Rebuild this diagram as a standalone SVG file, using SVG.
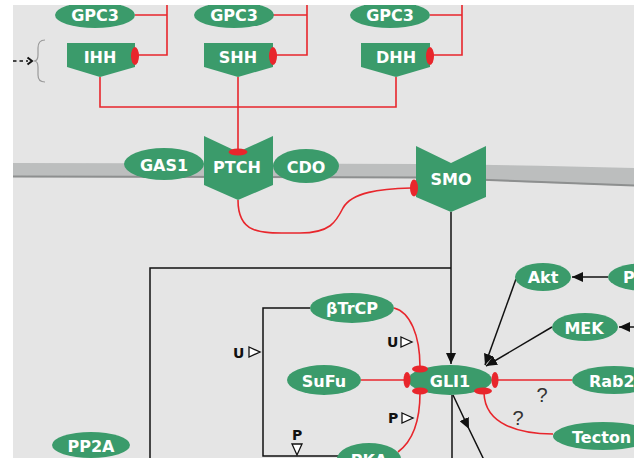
<svg xmlns="http://www.w3.org/2000/svg" width="634" height="458" viewBox="0 0 634 458">
<defs>
<style>
.n{fill:#3b9b6b}
.t{fill:#fff;font-family:"DejaVu Sans",Verdana,sans-serif;font-weight:bold;font-size:16px;text-anchor:middle}
.r{fill:none;stroke:#e8262c;stroke-width:1.6}
.k{fill:none;stroke:#111;stroke-width:1.5}
.c{fill:#e8262c}
.q{font-family:"Liberation Sans",Arial,sans-serif;font-size:20px;fill:#333;text-anchor:middle}
.m{font-family:"DejaVu Sans",sans-serif;font-weight:bold;font-size:14px;fill:#111}
.tri{fill:#fff;stroke:#111;stroke-width:1.3}
</style>
<marker id="ah" markerUnits="userSpaceOnUse" markerWidth="12" markerHeight="10" refX="11" refY="5" orient="auto"><path d="M0,0 L11,5 L0,10 z" fill="#111"/></marker>
<clipPath id="clip"><rect x="13" y="5" width="621" height="453"/></clipPath>
</defs>
<rect width="634" height="458" fill="#fff"/>
<rect x="13" y="5" width="621" height="453" fill="#e5e5e5"/>
<g clip-path="url(#clip)">
<g id="membrane">
<path d="M13,163 L420,164 Q520,165 634,168 L634,186 Q520,182 420,178 L13,177 Z" fill="#bcbebe"/>
<path d="M13,176.5 L420,177.5 Q520,181.5 634,185.5" fill="none" stroke="#8d8f8f" stroke-width="2"/>
</g>
<g id="connectors">
<path class="r" d="M135,15 H167 M167,0 V55 H137"/>
<path class="r" d="M273,15 H307 M307,0 V55 H275"/>
<path class="r" d="M430,15 H462 M462,0 V55 H432"/>
<path class="r" d="M100,77 V107 H396 V77"/>
<path class="r" d="M238,77 V150"/>
<path class="r" d="M238,200 C238,236 262,233 300,233 C330,233 336,222 343,208 C352,192 380,189 411,188"/>
<path class="r" d="M394,308 C410,312 420,335 420,367"/>
<path class="r" d="M361,380 H405"/>
<path class="r" d="M398,452 C414,440 420,420 420,393"/>
<path class="r" d="M572,380 H497"/>
<path class="r" d="M553,434 C520,434 485,425 484,393"/>
<path class="k" d="M451,212 V364" marker-end="url(#ah)"/>
<path class="k" d="M451,268 H150 V458"/>
<path class="k" d="M310,308 H263 V456 H338"/>
<path class="k" d="M452,395 V458"/>
<path class="k" d="M453,395 L469,429 L485,462" marker-mid="url(#ah)"/>
<path class="k" d="M516,279 L485,365" marker-end="url(#ah)"/>
<path class="k" d="M552,327 L486,366" marker-end="url(#ah)"/>
<path class="k" d="M608,277 H572" marker-end="url(#ah)"/>
<path class="k" d="M640,327 H619" marker-end="url(#ah)"/>
<path d="M13,61 H28" fill="none" stroke="#111" stroke-width="1.6" stroke-dasharray="3.5,3"/>
<path d="M27.5,57.5 L32,61 L27.5,64.5" fill="none" stroke="#111" stroke-width="2"/>
<path d="M45,40 Q38,40 38,48 L38,55 Q38,61 34,61 Q38,61 38,67 L38,75 Q38,82 45,82" fill="none" stroke="#9a9a9a" stroke-width="1.2"/>
<text class="m" x="387" y="347">U</text>
<path class="tri" d="M401,337 L412,342 L401,347 Z"/>
<text class="m" x="233" y="358">U</text>
<path class="tri" d="M249,347 L260,352 L249,357 Z"/>
<text class="m" x="388" y="423">P</text>
<path class="tri" d="M402,413 L413,418 L402,423 Z"/>
<text class="m" x="292" y="440">P</text>
<path class="tri" d="M292,444 L302,444 L297,455 Z"/>
<text class="q" x="542" y="402">?</text>
<text class="q" x="518" y="425">?</text>
</g>
<g id="GPC3_1"><ellipse class="n" cx="95" cy="15" rx="40" ry="13"/><text class="t" x="95" y="21">GPC3</text></g>
<g id="GPC3_2"><ellipse class="n" cx="234" cy="15" rx="40" ry="13"/><text class="t" x="234" y="21">GPC3</text></g>
<g id="GPC3_3"><ellipse class="n" cx="390" cy="15" rx="40" ry="13"/><text class="t" x="390" y="21">GPC3</text></g>
<g id="IHH"><path class="n" d="M67,43 H135 V67 L100,77 L67,67 Z"/><text class="t" x="100" y="63">IHH</text><ellipse class="c" cx="135" cy="56" rx="4" ry="9"/></g>
<g id="SHH"><path class="n" d="M204,43 H273 V67 L238,77 L204,67 Z"/><text class="t" x="238" y="63">SHH</text><ellipse class="c" cx="273" cy="56" rx="4" ry="9"/></g>
<g id="DHH"><path class="n" d="M361,43 H430 V67 L396,77 L361,67 Z"/><text class="t" x="396" y="63">DHH</text><ellipse class="c" cx="430" cy="56" rx="4" ry="9"/></g>
<g id="GAS1"><ellipse class="n" cx="164" cy="164" rx="40" ry="16"/><text class="t" x="164" y="171">GAS1</text></g>
<g id="PTCH"><path class="n" d="M204,136 L238,152 L273,136 V185 L238,200 L204,185 Z"/><text class="t" x="237" y="173">PTCH</text><ellipse class="c" cx="238" cy="152" rx="9.5" ry="3.5"/></g>
<g id="CDO"><ellipse class="n" cx="306" cy="166" rx="33" ry="17"/><text class="t" x="306" y="173">CDO</text></g>
<g id="SMO"><path class="n" d="M416,146 L451,163 L486,146 V197 L451,212 L416,197 Z"/><text class="t" x="451" y="185">SMO</text><ellipse class="c" cx="414" cy="188" rx="4" ry="8.5"/></g>
<g id="bTrCP"><ellipse class="n" cx="352" cy="308" rx="42" ry="15"/><text class="t" x="352" y="314">βTrCP</text></g>
<g id="SuFu"><ellipse class="n" cx="324" cy="380" rx="37" ry="15"/><text class="t" x="324" y="387">SuFu</text></g>
<g id="GLI1"><ellipse class="n" cx="450" cy="380" rx="42" ry="15"/><text class="t" x="450" y="387">GLI1</text>
<ellipse class="c" cx="420" cy="369" rx="8" ry="3.5"/><ellipse class="c" cx="407" cy="380" rx="3.5" ry="8"/><ellipse class="c" cx="420" cy="391" rx="8" ry="3.5"/><ellipse class="c" cx="495" cy="380" rx="3.5" ry="8"/><ellipse class="c" cx="483" cy="391" rx="9" ry="3.5"/></g>
<g id="PKA"><ellipse class="n" cx="369" cy="459" rx="32" ry="16"/><text class="t" x="369" y="466">PKA</text></g>
<g id="PP2A"><ellipse class="n" cx="91" cy="445" rx="39" ry="13"/><text class="t" x="91" y="452">PP2A</text></g>
<g id="Akt"><ellipse class="n" cx="543" cy="277" rx="28" ry="14"/><text class="t" x="543" y="283">Akt</text></g>
<g id="P"><ellipse class="n" cx="646" cy="277" rx="38" ry="14"/><text class="t" x="623" y="283" style="text-anchor:start">P</text></g>
<g id="MEK"><ellipse class="n" cx="585" cy="327" rx="33" ry="14"/><text class="t" x="584" y="334">MEK</text></g>
<g id="Rab2"><ellipse class="n" cx="614" cy="380" rx="42" ry="14"/><text class="t" x="589" y="387" style="text-anchor:start">Rab2</text></g>
<g id="Tecton"><ellipse class="n" cx="603" cy="436" rx="50" ry="14"/><text class="t" x="572" y="443" style="text-anchor:start">Tecton</text></g>
</g>
</svg>
